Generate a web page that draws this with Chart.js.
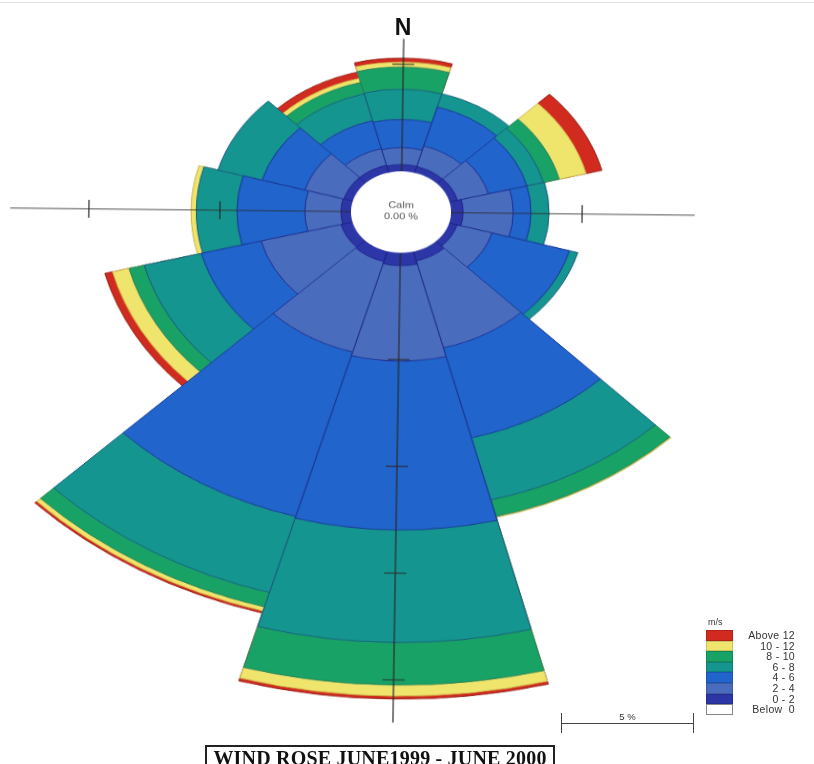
<!DOCTYPE html>
<html>
<head>
<meta charset="utf-8">
<title>Wind Rose June 1999 - June 2000</title>
<script src="https://cdn.jsdelivr.net/npm/chart.js@4.4.1/dist/chart.umd.min.js"></script>
<style>
  html, body { margin: 0; padding: 0; background: #fff; }
  body { width: 814px; height: 764px; overflow: hidden; position: relative;
         font-family: "Liberation Sans", Arial, sans-serif; color: #222; }
  #topRule { position: absolute; left: 0; top: 2px; width: 814px; height: 1px; background: #e2e2e2; }
  /* the rose is drawn round, then flattened and tilted slightly as in the printed sheet */
  #rose { position: absolute; left: 0; top: -49px;
          transform-origin: 401px 261px; transform: scaleY(0.815) rotate(0.74deg); }
  #north { position: absolute; left: 383px; top: 14px; width: 40px; text-align: center;
           font: bold 23px "Liberation Sans", Arial, sans-serif; color: #111; }
  #legend { position: absolute; left: 706px; top: 616px; }
  #legend .unit { font-size: 9px; color: #333; margin-left: 2px; height: 14px; line-height: 12px; }
  #legend .row { position: relative; height: 10.6px; }
  #legend .sw { position: absolute; left: 0; top: 0; width: 27px; height: 10.6px; box-sizing: border-box; }
  #legend .lab { position: absolute; left: 32px; width: 57px; top: -1px; text-align: right;
                 font-size: 10.5px; line-height: 12px; color: #333; white-space: pre; letter-spacing: 0.3px; }
  #scaleBar { position: absolute; left: 561px; top: 713px; height: 20px;
              border-left: 1.5px solid #444; border-right: 1.5px solid #444; }
  #scaleBar .line { position: absolute; left: 0; right: 0; top: 9.5px; height: 1.2px; background: #444; }
  #scaleBar .txt { position: absolute; left: 0; right: 0; top: -2px; text-align: center;
                   font-size: 9.5px; color: #333; }
  #title { position: absolute; left: 205px; top: 745px; width: 350px; height: 30px; box-sizing: border-box;
           border: 2px solid #222; text-align: center; line-height: 16px;
           font: bold 20px "Liberation Serif", "Times New Roman", serif; color: #111; letter-spacing: 0.2px; }
</style>
</head>
<body>
<div id="topRule"></div>
<canvas id="rose" width="814" height="940"></canvas>
<div id="north">N</div>
<div id="legend"></div>
<div id="scaleBar"><div class="line"></div><div class="txt">5 %</div></div>
<div id="title">WIND ROSE JUNE1999 - JUNE 2000</div>

<script>
// Direction sectors (degrees clockwise from north), 30° wide
const directions = [0, 30, 60, 90, 120, 150, 180, 210, 240, 270, 300, 330];

// Speed classes in m/s, from the centre outward
const speedClasses = ['0 - 2', '2 - 4', '4 - 6', '6 - 8', '8 - 10', '10 - 12', 'Above 12'];

// Frequency (% of time) of each speed class per direction
const f0to2    = [0.31, 0.30, 0.31, 0.46, 0.31, 0.45, 0.60, 0.50, 0.45, 0.38, 0.35, 0.35];
const f2to4    = [0.79, 1.00, 1.22, 1.91, 1.39, 4.20, 4.47, 4.40, 3.15, 1.38, 1.55, 0.80];
const f4to6    = [1.33, 1.90, 1.52, 0.68, 3.07, 4.35, 7.91, 8.00, 2.35, 2.59, 1.70, 1.35];
const f6to8    = [1.41, 0.65, 0.65, 0.69, 0.33, 3.00, 5.27, 3.70, 2.25, 1.55, 1.75, 1.30];
const f8to10   = [1.04, 0.00, 0.62, 0.00, 0.00, 0.80, 1.99, 0.70, 0.60, 0.00, 0.00, 0.55];
const f10to12  = [0.23, 0.00, 1.06, 0.00, 0.00, 0.05, 0.52, 0.20, 0.65, 0.20, 0.00, 0.20];
const fAbove12 = [0.19, 0.00, 0.62, 0.00, 0.00, 0.00, 0.14, 0.10, 0.30, 0.00, 0.00, 0.30];

// Calm share (%)
const calmPercent = 0.00;

// Reach of the N, E, S, W axis lines and their tick spacing, in %
const axisReach = [6.2, 9.3, 22.0, 13.0];
const axisTickStep = 5;
const scaleBarPercent = 5;

// Styling
const bandColors = ['#2c36a6', '#4a6cbd', '#2064cc', '#15958f', '#18a266', '#efe46c', '#d12a1e'];
const bandEdges  = ['#1b2488', '#1d2f8e', '#1b3590', '#1a5a7e', '#2a7e55', '#cdb44a', '#8e1a12'];

const bands = [f0to2, f2to4, f4to6, f6to8, f8to10, f10to12, fAbove12];

// Stack the classes: each ring is drawn out to the running total
const stacked = [];
let running = directions.map(() => 0);
bands.forEach(b => {
  running = running.map((s, i) => s + b[i]);
  stacked.push(running.map((s, i) => (b[i] > 0 ? +s.toFixed(3) : null)));
});

const datasets = speedClasses.map((label, k) => ({
  label,
  data: stacked[k],
  backgroundColor: bandColors[k],
  borderColor: bandEdges[k],
  borderWidth: 1
}));

// Axis cross, calm disc and its label
const roseDecor = {
  id: 'roseDecor',
  afterDatasetsDraw(chart) {
    const r = chart.scales.r;
    const ctx = chart.ctx;
    const cx = r.xCenter, cy = r.yCenter;
    const dist = v => r.getDistanceFromCenterForValue(v);
    const tickHalf = 11;
    ctx.save();
    ctx.strokeStyle = '#2a2a2a';
    ctx.lineWidth = 1.2;
    axisReach.forEach((reach, i) => {
      const a = -Math.PI / 2 + i * Math.PI / 2;
      const ux = Math.cos(a), uy = Math.sin(a);
      const end = dist(reach);
      ctx.beginPath();
      ctx.moveTo(cx, cy);
      ctx.lineTo(cx + ux * end, cy + uy * end);
      ctx.stroke();
      for (let t = axisTickStep; t <= reach; t += axisTickStep) {
        const d = dist(t);
        const px = cx + ux * d, py = cy + uy * d;
        ctx.beginPath();
        ctx.moveTo(px - uy * tickHalf, py + ux * tickHalf);
        ctx.lineTo(px + uy * tickHalf, py - ux * tickHalf);
        ctx.stroke();
      }
    });
    const calmR = dist(0);
    ctx.fillStyle = '#fff';
    ctx.beginPath();
    ctx.arc(cx, cy, calmR, 0, Math.PI * 2);
    ctx.fill();
    ctx.fillStyle = '#555';
    ctx.font = '11px "Liberation Sans", Arial, sans-serif';
    ctx.textAlign = 'center';
    ctx.textBaseline = 'middle';
    ctx.fillText('Calm', cx, cy - 8);
    ctx.fillText(calmPercent.toFixed(2) + ' %', cx, cy + 6);
    ctx.restore();
  }
};

const chart = new Chart(document.getElementById('rose'), {
  type: 'polarArea',
  data: { labels: directions.map(d => d + '°'), datasets },
  options: {
    responsive: false,
    animation: false,
    devicePixelRatio: 1,
    events: [],
    layout: { padding: { left: 0, right: 12, top: 0, bottom: 418 } },
    plugins: { legend: { display: false }, tooltip: { enabled: false } },
    elements: { arc: { borderAlign: 'center' } },
    scales: {
      r: {
        min: -1.91,
        max: 8.05,
        startAngle: -15,
        ticks: { display: false },
        grid: { display: false },
        angleLines: { display: false },
        pointLabels: { display: false }
      }
    }
  },
  plugins: [roseDecor]
});

// Legend, highest class first
const legend = document.getElementById('legend');
const unit = document.createElement('div');
unit.className = 'unit';
unit.textContent = 'm/s';
legend.appendChild(unit);
const rows = speedClasses.map((label, k) => ({ label, color: bandColors[k], edge: 'rgba(0,0,0,0.15)' })).reverse();
rows.push({ label: 'Below  0', color: '#fff', edge: '#888' });
rows.forEach(row => {
  const div = document.createElement('div');
  div.className = 'row';
  const sw = document.createElement('div');
  sw.className = 'sw';
  sw.style.background = row.color;
  sw.style.border = '1px solid ' + row.edge;
  const lab = document.createElement('div');
  lab.className = 'lab';
  lab.textContent = row.label;
  div.appendChild(sw);
  div.appendChild(lab);
  legend.appendChild(div);
});

// Scale bar length taken from the radial scale
const rScale = chart.scales.r;
const barLen = rScale.getDistanceFromCenterForValue(scaleBarPercent) - rScale.getDistanceFromCenterForValue(0);
document.getElementById('scaleBar').style.width = barLen.toFixed(1) + 'px';
</script>
</body>
</html>
